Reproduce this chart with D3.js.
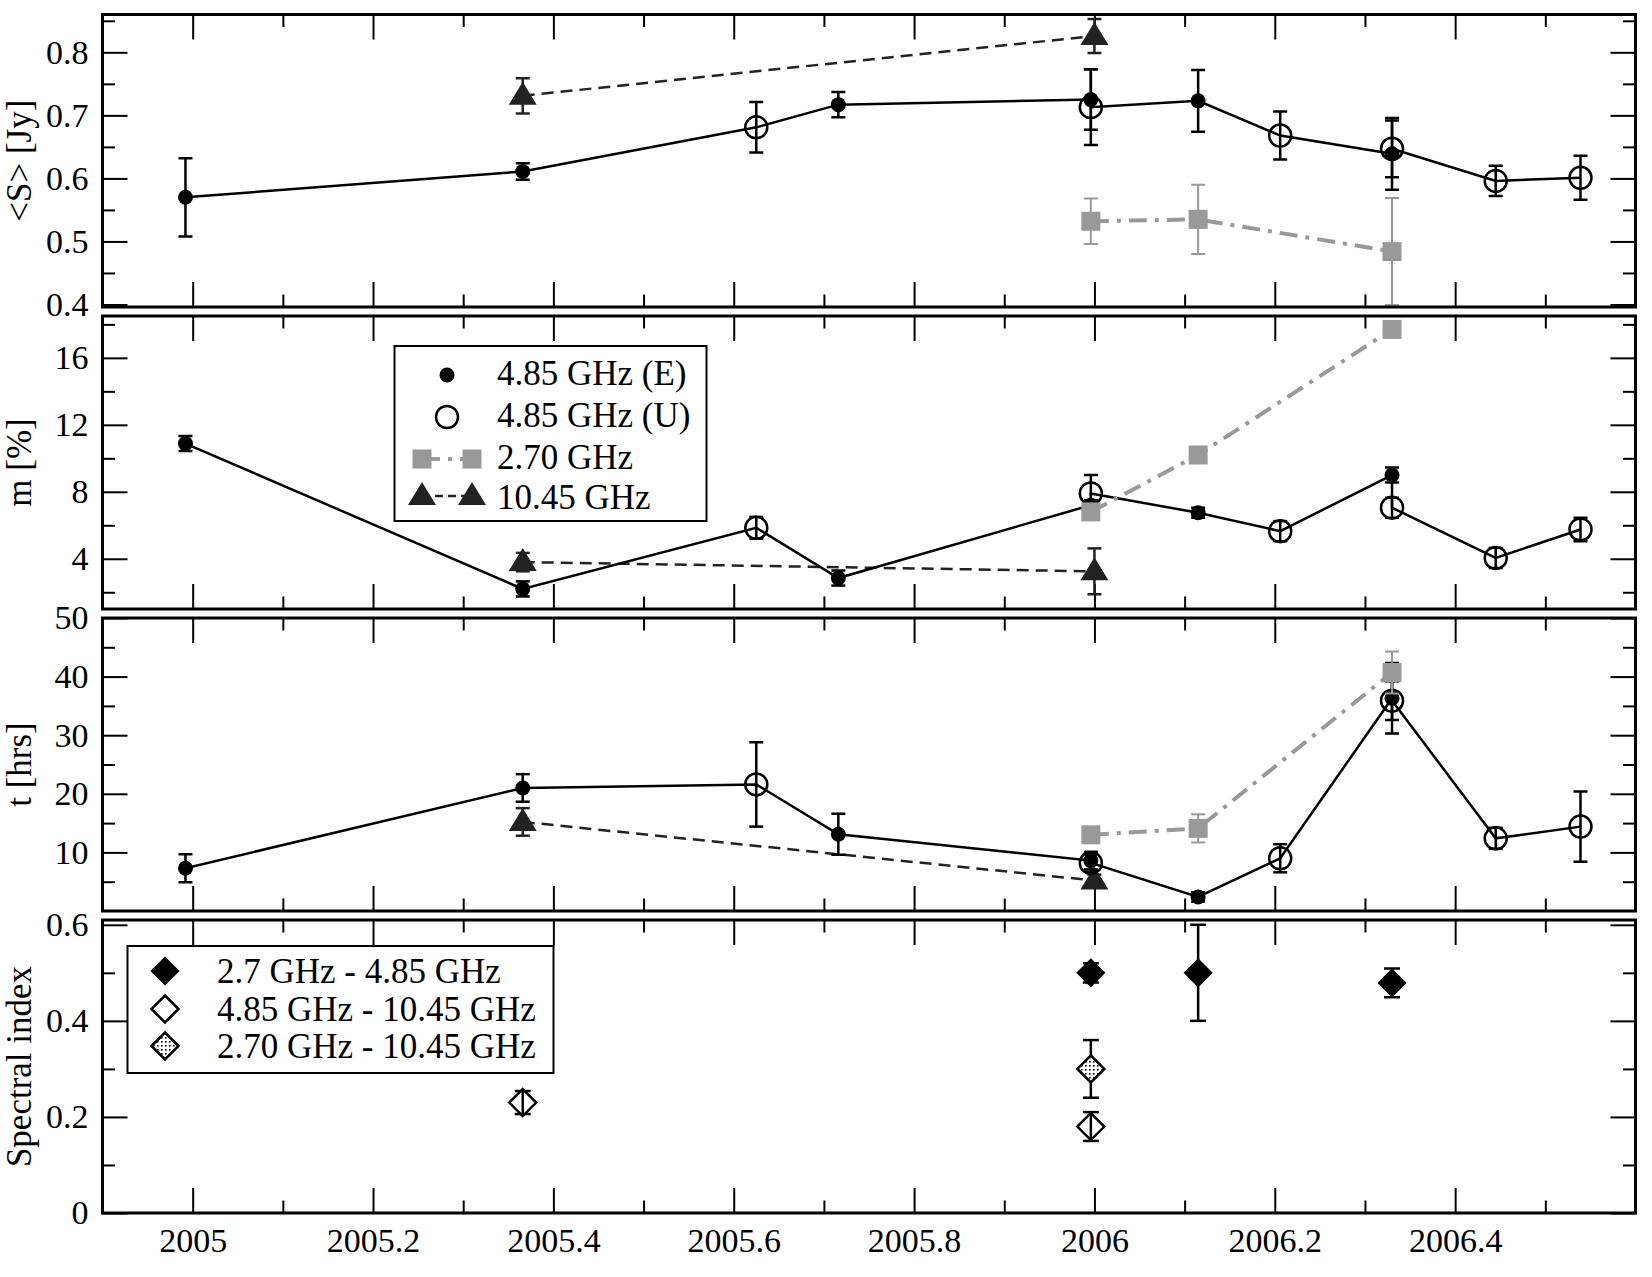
<!DOCTYPE html>
<html>
<head>
<meta charset="utf-8">
<script src="https://cdn.jsdelivr.net/npm/d3@7"></script>
<style>
body { margin: 0; background: #fff; }
svg text { font-family: "Liberation Serif", "Times New Roman", serif !important; }
</style>
</head>
<body>
<div id="chart"></div>
<script>
// observing epochs (decimal year)
const epochsE = [2004.992, 2005.366, 2005.716, 2005.996, 2006.115, 2006.33];
const epochsU = [2005.625, 2005.996, 2006.206, 2006.33, 2006.445, 2006.539];
const epochs27 = [2005.996, 2006.115, 2006.33];
const epochs10 = [2005.366, 2006.0];

// <S> [Jy]
const fluxE = [0.570, 0.611, 0.717, 0.725, 0.723, 0.639];
const fluxEerr = [0.062, 0.013, 0.020, 0.048, 0.049, 0.057];
const fluxU = [0.681, 0.713, 0.668, 0.647, 0.596, 0.601];
const fluxUerr = [0.040, 0.060, 0.038, 0.045, 0.024, 0.035];
const flux27 = [0.532, 0.535, 0.484];
const flux27err = [0.036, 0.055, 0.085];
const flux10 = [0.731, 0.826];
const flux10err = [0.028, 0.027];

// m [%]
const modE = [10.88, 2.2, 2.85, 7.2, 6.75, 9.0];
const modEerr = [0.45, 0.45, 0.45, 0.3, 0.3, 0.45];
const modU = [5.85, 7.9, 5.65, 7.05, 4.05, 5.75];
const modUerr = [0.65, 1.1, 0.6, 0.6, 0.6, 0.7];
const mod27 = [6.8, 10.2, 17.7];
const mod27err = [0.3, 0.3, 0.5];
const mod10 = [3.8, 3.25];
const mod10err = [0.55, 1.37];

// t [hrs]
const timeE = [7.3, 21.0, 13.1, 8.6, 2.4, 36.3];
const timeEerr = [2.4, 2.35, 3.5, 1.5, 0.8, 6.0];
const timeU = [21.6, 8.2, 9.0, 35.9, 12.4, 14.4];
const timeUerr = [7.2, 1.5, 2.4, 3.3, 1.8, 6.0];
const time27 = [13.0, 14.1, 40.7];
const time27err = [0.5, 2.4, 3.6];
const time10 = [15.2, 5.2];
const time10err = [2.35, 1.0];

// spectral index
const alphaEpochsA = [2005.996, 2006.115, 2006.33];
const alphaA = [0.50, 0.50, 0.479];
const alphaAerr = [0.02, 0.10, 0.03];
const alphaEpochsB = [2005.366, 2005.996];
const alphaB = [0.230, 0.18];
const alphaBerr = [0.024, 0.03];
const alphaEpochsC = [2005.996];
const alphaC = [0.30];
const alphaCerr = [0.06];

// ticks
const xMajor = [2005, 2005.2, 2005.4, 2005.6, 2005.8, 2006, 2006.2, 2006.4];
const xMinor = [2005.1, 2005.3, 2005.5, 2005.7, 2005.9, 2006.1, 2006.3, 2006.5];
const xLabels = ['2005', '2005.2', '2005.4', '2005.6', '2005.8', '2006', '2006.2', '2006.4'];
const fluxMajor = [0.4, 0.5, 0.6, 0.7, 0.8];
const fluxMinor = [0.45, 0.55, 0.65, 0.75, 0.85];
const modMajor = [4, 8, 12, 16];
const modMinor = [2, 6, 10, 14, 18];
const timeMajor = [10, 20, 30, 40, 50];
const timeMinor = [5, 15, 25, 35, 45];
const alphaMajor = [0, 0.2, 0.4, 0.6];
const alphaMinor = [0.1, 0.3, 0.5];

const legend1 = ['4.85 GHz (E)', '4.85 GHz (U)', '2.70 GHz', '10.45 GHz'];
const legend2 = ['2.7 GHz - 4.85 GHz', '4.85 GHz - 10.45 GHz', '2.70 GHz - 10.45 GHz'];

const width = 1652;
const height = 1277;
const left = 102.5, right = 1635.5;
const grey = '#999999';
const dark = '#222222';
const font = 'Liberation Serif, serif';

const svg = d3.select('#chart').append('svg')
	.attr('width', width)
	.attr('height', height)
	.attr('font-family', font);

svg.append('rect').attr('width', width).attr('height', height).attr('fill', '#fff');

const defs = svg.append('defs');
const dots = defs.append('pattern')
	.attr('id', 'dots')
	.attr('patternUnits', 'userSpaceOnUse')
	.attr('width', 4)
	.attr('height', 4);
dots.append('rect').attr('width', 4).attr('height', 4).attr('fill', '#fff');
dots.append('rect').attr('x', 1).attr('y', 1).attr('width', 1.6).attr('height', 1.6).attr('fill', '#000');

const x = d3.scaleLinear().domain([2004.9, 2006.6]).range([left, right]);

const panels = [
	{ top: 14.5, bottom: 307, domain: [0.396, 0.86], major: fluxMajor, minor: fluxMinor, fmt: d3.format('.1f'), title: '<S> [Jy]' },
	{ top: 316, bottom: 609, domain: [1, 18.5], major: modMajor, minor: modMinor, fmt: d3.format('d'), title: 'm [%]' },
	{ top: 618, bottom: 911, domain: [0, 50], major: timeMajor, minor: timeMinor, fmt: d3.format('d'), title: 't [hrs]' },
	{ top: 920, bottom: 1213, domain: [0, 0.61], major: alphaMajor, minor: alphaMinor, fmt: d => d === 0 ? '0' : d3.format('.1f')(d), title: 'Spectral index' },
];

const diamond = (cx, cy, r) => `M${cx},${cy - r}L${cx + r},${cy}L${cx},${cy + r}L${cx - r},${cy}Z`;

const symbols = {
	disc: (g, cx, cy) => g.append('circle').attr('cx', cx).attr('cy', cy).attr('r', 7.5).attr('fill', '#000'),
	ring: (g, cx, cy) => g.append('circle').attr('cx', cx).attr('cy', cy).attr('r', 11)
		.attr('fill', 'none').attr('stroke', '#000').attr('stroke-width', 2.5),
	square: (g, cx, cy) => g.append('rect').attr('x', cx - 9.5).attr('y', cy - 9.5)
		.attr('width', 19).attr('height', 19).attr('fill', grey),
	triangle: (g, cx, cy) => g.append('path')
		.attr('d', `M${cx},${cy - 14}L${cx + 14},${cy + 9}L${cx - 14},${cy + 9}Z`).attr('fill', dark),
	diamondFull: (g, cx, cy) => g.append('path').attr('d', diamond(cx, cy, 13.5))
		.attr('fill', '#000').attr('stroke', '#000').attr('stroke-width', 1.5),
	diamondOpen: (g, cx, cy) => g.append('path').attr('d', diamond(cx, cy, 13.5))
		.attr('fill', 'none').attr('stroke', '#000').attr('stroke-width', 2.5),
	diamondDots: (g, cx, cy) => g.append('path').attr('d', diamond(cx, cy, 13.5))
		.attr('fill', 'url(#dots)').attr('stroke', '#000').attr('stroke-width', 2.5),
};

const lineStyles = {
	solid: { stroke: '#000', width: 2.5, dash: null },
	dashed: { stroke: dark, width: 2.5, dash: '12,7' },
	dashdot: { stroke: grey, width: 4, dash: '18,8,4,8' },
};

const zip = (epochs, values, errors) => epochs.map((d, i) => ({ t: d, v: values[i], e: errors[i] }));

const draw_line = (g, y, pts, style) => {
	const s = lineStyles[style];
	g.append('path')
		.datum(pts)
		.attr('d', d3.line().x(d => x(d.t)).y(d => y(d.v)))
		.attr('fill', 'none')
		.attr('stroke', s.stroke)
		.attr('stroke-width', s.width)
		.attr('stroke-dasharray', s.dash);
};

const draw_errors = (g, y, pts, colour, w, cap) => {
	pts.forEach(d => {
		const cx = x(d.t);
		const y0 = y(d.v - d.e), y1 = y(d.v + d.e);
		const eg = g.append('g').attr('stroke', colour).attr('stroke-width', w);
		eg.append('line').attr('x1', cx).attr('x2', cx).attr('y1', y0).attr('y2', y1);
		eg.append('line').attr('x1', cx - cap / 2).attr('x2', cx + cap / 2).attr('y1', y0).attr('y2', y0);
		eg.append('line').attr('x1', cx - cap / 2).attr('x2', cx + cap / 2).attr('y1', y1).attr('y2', y1);
	});
};

const draw_symbols = (g, y, pts, sym) => {
	pts.forEach(d => symbols[sym](g, x(d.t), y(d.v)));
};

const panel_series = [
	{ E: zip(epochsE, fluxE, fluxEerr), U: zip(epochsU, fluxU, fluxUerr), S: zip(epochs27, flux27, flux27err), T: zip(epochs10, flux10, flux10err) },
	{ E: zip(epochsE, modE, modEerr), U: zip(epochsU, modU, modUerr), S: zip(epochs27, mod27, mod27err), T: zip(epochs10, mod10, mod10err) },
	{ E: zip(epochsE, timeE, timeEerr), U: zip(epochsU, timeU, timeUerr), S: zip(epochs27, time27, time27err), T: zip(epochs10, time10, time10err) },
];

panels.forEach((p, i) => {
	const y = d3.scaleLinear().domain(p.domain).range([p.bottom, p.top]);
	const g = svg.append('g');

	defs.append('clipPath').attr('id', 'clip' + i)
		.append('rect').attr('x', left).attr('y', p.top).attr('width', right - left).attr('height', p.bottom - p.top);

	// axes: ticks pointing inward on all four sides
	const ax = (axis, tx, ty) => {
		const a = g.append('g').attr('transform', `translate(${tx},${ty})`).call(axis);
		a.attr('font-family', font).attr('font-size', 34);
		a.select('.domain').remove();
		a.selectAll('line').attr('stroke', '#000').attr('stroke-width', 2);
		a.selectAll('text').attr('fill', '#000');
		return a;
	};
	ax(d3.axisLeft(y).tickValues(p.major).tickSize(-25).tickPadding(14).tickFormat(p.fmt), left, 0);
	ax(d3.axisLeft(y).tickValues(p.minor).tickSize(-12.5).tickFormat(''), left, 0);
	ax(d3.axisRight(y).tickValues(p.major).tickSize(-25).tickFormat(''), right, 0);
	ax(d3.axisRight(y).tickValues(p.minor).tickSize(-12.5).tickFormat(''), right, 0);
	ax(d3.axisTop(x).tickValues(xMajor).tickSize(-25).tickFormat(''), 0, p.top);
	ax(d3.axisTop(x).tickValues(xMinor).tickSize(-12.5).tickFormat(''), 0, p.top);
	ax(d3.axisBottom(x).tickValues(xMajor).tickSize(-25).tickPadding(15)
		.tickFormat(i === 3 ? (d, k) => xLabels[k] : ''), 0, p.bottom);
	ax(d3.axisBottom(x).tickValues(xMinor).tickSize(-12.5).tickFormat(''), 0, p.bottom);

	g.append('text')
		.attr('transform', `translate(31,${(p.top + p.bottom) / 2}) rotate(-90)`)
		.attr('text-anchor', 'middle')
		.attr('font-size', 35)
		.text(p.title);

	const data = g.append('g').attr('clip-path', `url(#clip${i})`);

	if (i < 3) {
		const s = panel_series[i];
		const combined = s.E.concat(s.U).sort((a, b) => a.t - b.t);
		draw_line(data, y, s.T, 'dashed');
		draw_errors(data, y, s.T, dark, 2.5, 14);
		draw_symbols(data, y, s.T, 'triangle');
		draw_line(data, y, combined, 'solid');
		draw_errors(data, y, s.E, '#000', 2.5, 14);
		draw_errors(data, y, s.U, '#000', 2.5, 14);
		draw_symbols(data, y, s.U, 'ring');
		draw_symbols(data, y, s.E, 'disc');
		draw_line(data, y, s.S, 'dashdot');
		draw_errors(data, y, s.S, grey, 2, 14);
		draw_symbols(data, y, s.S, 'square');
	} else {
		const A = zip(alphaEpochsA, alphaA, alphaAerr);
		const B = zip(alphaEpochsB, alphaB, alphaBerr);
		const C = zip(alphaEpochsC, alphaC, alphaCerr);
		draw_errors(data, y, A, '#000', 2.5, 16);
		draw_symbols(data, y, A, 'diamondFull');
		draw_errors(data, y, C, '#000', 2.5, 16);
		draw_symbols(data, y, C, 'diamondDots');
		draw_symbols(data, y, B, 'diamondOpen');
		draw_errors(data, y, B, '#000', 2.5, 16);
	}

	g.append('rect')
		.attr('x', left).attr('y', p.top)
		.attr('width', right - left).attr('height', p.bottom - p.top)
		.attr('fill', 'none').attr('stroke', '#000').attr('stroke-width', 3);
});

// legend in the m panel
const lg1 = svg.append('g');
lg1.append('rect').attr('x', 394.5).attr('y', 346).attr('width', 312).attr('height', 175)
	.attr('fill', '#fff').attr('stroke', '#000').attr('stroke-width', 2);
const base1 = [385, 427, 469, 509];
symbols.disc(lg1, 447, base1[0] - 10);
symbols.ring(lg1, 447, base1[1] - 10);
lg1.append('line').attr('x1', 422).attr('x2', 472).attr('y1', base1[2] - 10).attr('y2', base1[2] - 10)
	.attr('stroke', grey).attr('stroke-width', 4).attr('stroke-dasharray', lineStyles.dashdot.dash);
symbols.square(lg1, 422, base1[2] - 10);
symbols.square(lg1, 472, base1[2] - 10);
lg1.append('line').attr('x1', 422).attr('x2', 472).attr('y1', base1[3] - 13).attr('y2', base1[3] - 13)
	.attr('stroke', dark).attr('stroke-width', 2.5).attr('stroke-dasharray', '8,5');
symbols.triangle(lg1, 422, base1[3] - 13);
symbols.triangle(lg1, 472, base1[3] - 13);
lg1.selectAll('text.lab').data(legend1).enter().append('text')
	.attr('class', 'lab')
	.attr('x', 497)
	.attr('y', (d, k) => base1[k])
	.attr('font-size', 35)
	.text(d => d);

// legend in the spectral index panel
const lg2 = svg.append('g');
lg2.append('rect').attr('x', 127.5).attr('y', 946).attr('width', 426).attr('height', 127)
	.attr('fill', '#fff').attr('stroke', '#000').attr('stroke-width', 2);
const base2 = [983, 1021, 1058];
symbols.diamondFull(lg2, 165, base2[0] - 12);
symbols.diamondOpen(lg2, 165, base2[1] - 12);
symbols.diamondDots(lg2, 165, base2[2] - 12);
lg2.selectAll('text.lab').data(legend2).enter().append('text')
	.attr('class', 'lab')
	.attr('x', 217)
	.attr('y', (d, k) => base2[k])
	.attr('font-size', 35)
	.text(d => d);
</script>
</body>
</html>
